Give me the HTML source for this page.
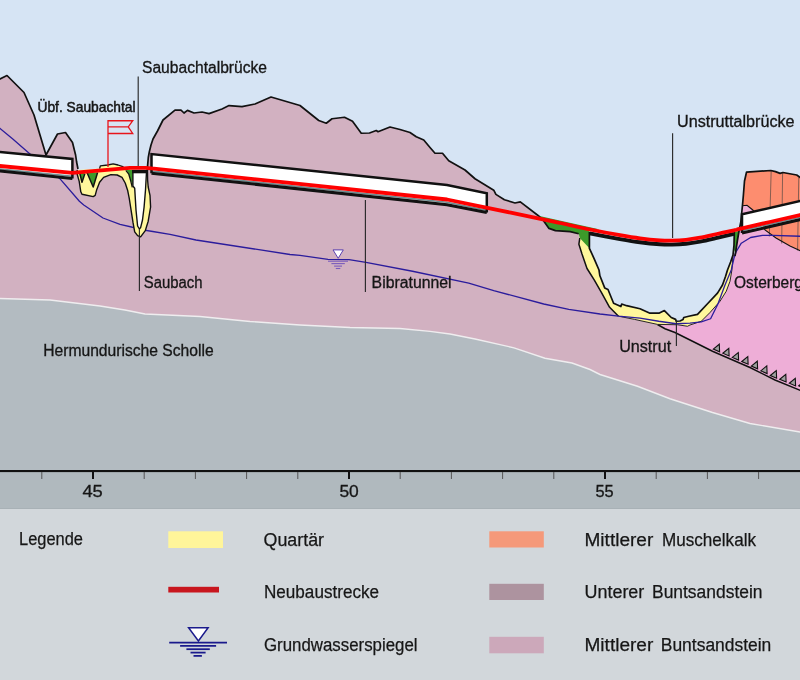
<!DOCTYPE html>
<html><head><meta charset="utf-8">
<style>
html,body{margin:0;padding:0;background:#d2d7db;}
svg{display:block;will-change:transform;}
text{font-family:"Liberation Sans",sans-serif;fill:#161616;}
.lab{stroke:#161616;stroke-width:0.3;}
.lab2{stroke:#161616;stroke-width:0.5;}
.leg{stroke:#1b1b1b;stroke-width:0.25;}
</style></head>
<body>
<svg width="800" height="680" viewBox="0 0 800 680">
<rect x="0" y="0" width="800" height="472" fill="#d6e4f4"/>
<path fill="#d2b1c1" d="M-2,80 L0,79 L7,75.5 L24,92.5 L34,115 L40,135 L46,155 L57.5,134 L65.5,132.5 L72.5,142.5 L75.6,155 L76.6,162 L78,169 L78,170 L147.3,172 L147.3,172 L147.6,165.6 L148.3,157.5 L149.3,152 L151,145 L153,139 L157.5,131 L163,120 L175,110.2 L181,110.2 L184,113 L187.5,110.4 L194,113 L202,112 L209,113.6 L222,109 L229,105.6 L242,106.6 L255,104 L271,97 L300,105.5 L318.75,120.5 L326.25,123.25 L332,118.75 L344.5,117.25 L352.5,121.25 L361.25,133.25 L369.5,133 L376.25,130.5 L378,131.75 L390,127 L400,129.5 L410,132.5 L416.25,136.75 L423.75,140 L430,147.5 L435,153.25 L442.5,153.25 L448.75,160.75 L465,170 L475,178.75 L493.75,190.2 L495.9,194.4 L504.4,199.75 L515,203 L520.3,201.9 L538.4,215.7 L543.7,221 L549,228.4 L555.4,230.6 L570.2,231.6 L578.75,233.75 L578.75,233.75 L579.8,238 L578.9,244.2 L582,254 L587,268.5 L594.2,279.8 L601.5,292.7 L609.6,307.3 L618.5,316.2 L634.6,319.4 L640,320.6 L657.5,324.4 L677.5,324.75 L687.5,326.25 L690,325 L701.25,321.25 L710,312.5 L720,301.25 L726.25,291.25 L730,281.25 L731.9,270 L733,255 L735.5,253 L737.5,240 L739,231 L740.8,222 L742.5,205 L743.4,195 L744.5,181 L746.5,172.2 L770.8,170.5 L775.5,171.6 L780.1,173.4 L782.9,172.5 L796.7,175 L800,177.4 L802,178.6 L802,472 L-2,472 Z"/>
<path fill="#b3bbc1" d="M-2,298.5 L0,298.5 L50,300 L100,306 L125,310 L145,314 L200,316.5 L250,321.5 L300,325 L350,327.5 L400,328.5 L430,331.4 L450,334 L475,339 L514,347.8 L545,358.2 L572,363 L590,369.5 L600,374.5 L637.5,386.25 L670,398.75 L712.5,412.5 L750,423.5 L800,432 L802,432.5 L802,475 L-2,475 Z"/>
<path fill="none" stroke="#efedef" stroke-width="1.4" d="M-2,298.5 L0,298.5 L50,300 L100,306 L125,310 L145,314 L200,316.5 L250,321.5 L300,325 L350,327.5 L400,328.5 L430,331.4 L450,334 L475,339 L514,347.8 L545,358.2 L572,363 L590,369.5 L600,374.5 L637.5,386.25 L670,398.75 L712.5,412.5 L750,423.5 L800,432 L802,432.5"/>
<path fill="#eeaed7" d="M657.5,324.4 L677.5,324.75 L687.5,326.25 L690,325 L701.25,321.25 L710,312.5 L720,301.25 L726.25,291.25 L730,281.25 L731.9,270 L733,255 L735.5,253 L737.5,240 L739,231 L740.8,222 L742.5,205 L742.5,205.7 L747,205.3 L752.8,210 L758,217 L765,230 L776,238 L790,246 L802,251.5 L802,391 L775,380 L750,367.5 L712.5,351.25 L692.5,341.25 L675,332.5 L665,328.75 L657.5,324.5 Z"/>
<path fill="#fd8d6f" d="M742.5,205 L743.4,195 L744.5,181 L746.5,172.2 L770.8,170.5 L775.5,171.6 L780.1,173.4 L782.9,172.5 L796.7,175 L800,177.4 L802,178.6 L802,251.5 L802,251.5 L790,246 L776,238 L765,230 L758,217 L752.8,210 L747,205.3 L742.5,205.7 Z"/>
<g stroke="#6a5048" stroke-width="0.8"><line x1="771.2" y1="170.6" x2="769.3" y2="236.5"/><line x1="782.6" y1="172.6" x2="781.7" y2="243.5"/><line x1="798.8" y1="176.5" x2="797.6" y2="250.5"/></g>
<path fill="none" stroke="#111" stroke-width="1.1" d="M742.5,205.7 L747,205.3 L752.8,210 L758,217 L765,230 L776,238 L790,246 L802,251.5"/>
<path fill="none" stroke="#111" stroke-width="1.5" d="M657.5,324.5 L665,328.75 L675,332.5 L692.5,341.25 L712.5,351.25 L750,367.5 L775,380 L802,391"/>
<g fill="#a0a0a0" stroke="#111" stroke-width="1.1" stroke-linejoin="miter"><path d="M713.3,349.1 L719.3,344.2 L719.6,351.8 Z"/><path d="M722.8,353.2 L728.8,348.3 L729.1,355.9 Z"/><path d="M732.3,357.4 L738.3,352.5 L738.6,360.1 Z"/><path d="M741.8,361.5 L747.8,356.6 L748.1,364.2 Z"/><path d="M751.3,366.1 L757.3,361.2 L757.6,368.8 Z"/><path d="M760.8,370.9 L766.8,365.9 L767.1,373.6 Z"/><path d="M770.3,375.5 L776.3,370.6 L776.6,378.2 Z"/><path d="M779.8,379.3 L785.8,374.4 L786.1,382.0 Z"/><path d="M789.3,383.2 L795.3,378.3 L795.6,385.9 Z"/><path d="M798.8,385.8 L804.8,380.9 L805.1,388.5 Z"/></g>
<path fill="#fff79c" d="M578.75,233.75 L579.8,238 L578.9,244.2 L582,254 L587,268.5 L594.2,279.8 L601.5,292.7 L609.6,307.3 L618.5,316.2 L634.6,319.4 L640,320.6 L657.5,324.4 L677.5,324.75 L687.5,326.25 L690,325 L701.25,321.25 L710,312.5 L720,301.25 L726.25,291.25 L730,281.25 L731.9,270 L733,255 L734.3,232 L734,245 L733,255 L730.6,262 L727.5,270 L725.6,276.25 L722.5,285 L717.5,293.1 L707.5,303.75 L697.5,314.4 L688.75,316.25 L683.75,317.5 L683.1,319.4 L680,321 L676.25,321.25 L675.6,319.4 L671.25,317.5 L664.4,310.6 L659.4,313.1 L649.4,313.1 L640,308.75 L626.6,305.7 L621.7,304 L620.9,306.5 L613.6,303.2 L608,289.5 L604.7,287.9 L599.9,275.8 L599,270 L594.2,258.8 L589.4,248.3 Z"/>
<path fill="none" stroke="#111" stroke-width="1.5" stroke-linejoin="round" d="M579.8,238 L578.9,244.2 L582,254 L587,268.5 L594.2,279.8 L601.5,292.7 L609.6,307.3 L618.5,316.2"/>
<path fill="none" stroke="#111" stroke-width="0.9" stroke-linejoin="round" d="M618.5,316.2 L634.6,319.4 L640,320.6 L657.5,324.4 L677.5,324.75 L687.5,326.25 L690,325 L701.25,321.25 L710,312.5 L720,301.25 L726.25,291.25 L730,281.25 L731.9,270 L733,255"/>
<path fill="#3c9a2a" d="M538.4,215.7 L600,229.5 L589.4,229 L589.4,248.3 L579.8,238 L578.75,233.75 L570.2,231.6 L555.4,230.6 L549,228.4 L543.7,221 Z"/>
<path fill="#3c9a2a" d="M734,232.5 L739.5,230.5 L737.5,240 L735.5,253 L734,250 Z"/>
<path fill="none" stroke="#2b1c9c" stroke-width="1.3" stroke-linejoin="round" d="M-2,126.7 L0,128.4 L12.5,138.8 L29.4,153.4 L60.3,179.1 L79.4,201.2 L83.75,205 L103,218 L120,224.4 L132.5,227.25 L139.4,229.4 L151.25,231.25 L170,234.4 L196,240 L290,254.5 L300,255.4 L328,259.4 L349,259.6 L366,262.3 L412.5,271.25 L468.75,283.1 L493.75,290.6 L543.75,304 L568.75,309.4 L600,314 L618.5,316.2 L640,318.1 L658.75,321.25 L676.25,323.75 L690,323.1 L701.25,321.9 L710.6,318.75 L718,303.75 L725,285 L731.25,270 L734,258 L736,252 L741.3,243.2 L750.6,237.5 L762.5,235.3 L773,235.3 L802,236.3"/>
<path fill="none" stroke="#111" stroke-width="1.7" stroke-linejoin="round" d="M589.4,232 L589.4,248.3 L594.2,258.8 L599,270 L599.9,275.8 L604.7,287.9 L608,289.5 L613.6,303.2 L620.9,306.5 L621.7,304 L626.6,305.7 L640,308.75 L649.4,313.1 L659.4,313.1 L664.4,310.6 L671.25,317.5 L675.6,319.4 L676.25,321.25 L680,321 L683.1,319.4 L683.75,317.5 L688.75,316.25 L697.5,314.4 L707.5,303.75 L717.5,293.1 L722.5,285 L725.6,276.25 L727.5,270 L730.6,262 L733,255 L734,245 L734.3,232"/>
<path fill="none" stroke="#111" stroke-width="1.7" stroke-linejoin="round" d="M735,256 L735.5,253 L737.5,240 L739,231 L740.8,222 L742.5,205 L743.4,195 L744.5,181 L746.5,172.2 L770.8,170.5 L775.5,171.6 L780.1,173.4 L782.9,172.5 L796.7,175 L800,177.4 L802,178.6"/>
<path d="M333,249.9 L343.3,249.9 L338.2,258.3 Z" fill="#fff" stroke="#5a40b0" stroke-width="1"/>
<g stroke="#7a5cbc" stroke-width="1.1"><line x1="328" y1="261.2" x2="348" y2="261.2"/><line x1="331.4" y1="263.6" x2="344.8" y2="263.6"/><line x1="334.1" y1="266.1" x2="342" y2="266.1"/><line x1="335.8" y1="268.5" x2="340.3" y2="268.5"/></g>
<path fill="#fff79c" d="M77.2,170 L77.2,174.2 L79.2,181.4 L80.8,191.8 L82,194.2 L93.2,196.6 L95.2,195.4 L96.8,189.4 L99.6,182.2 L103.6,177.4 L110.8,174.6 L117.2,175 L122,177.4 L125.2,183 L127.6,190.2 L129.2,198.2 L130.6,207 L133,222.4 L134.7,231.8 L137.6,235.6 L140.6,236.8 L145.3,230.6 L148.2,221.2 L150.6,207 L150,195.3 L148.2,187 L147.6,180 L147.5,172 L124,168 L124,168 L122.8,166.6 L118,165 L113.2,163.8 L107.6,165 L100.4,165.8 L99.6,168.6 Z"/>
<path fill="none" stroke="#111" stroke-width="1.4" stroke-linejoin="round" d="M77.2,170 L77.2,174.2 L79.2,181.4 L80.8,191.8 L82,194.2 L93.2,196.6 L95.2,195.4 L96.8,189.4 L99.6,182.2 L103.6,177.4 L110.8,174.6 L117.2,175 L122,177.4 L125.2,183 L127.6,190.2 L129.2,198.2 L130.6,207 L133,222.4 L134.7,231.8 L137.6,235.6 L140.6,236.8 L145.3,230.6 L148.2,221.2 L150.6,207 L150,195.3 L148.2,187 L147.6,180 L147.5,172"/>
<path fill="none" stroke="#111" stroke-width="1.3" stroke-linejoin="round" d="M99.6,168.6 L100.4,165.8 L107.6,165 L113.2,163.8 L118,165 L122.8,166.6 L124,168"/>
<path fill="#3c9a2a" d="M79.8,172.5 L82,181.5 L84.7,172.5 Z M87.3,172.5 L93.2,186.5 L97.4,172.5 Z"/>
<path fill="none" stroke="#111" stroke-width="1.5" stroke-linejoin="round" d="M79.6,172.5 L82,182.2 L84.8,173.8 M87,172.5 L93.2,187 L97.6,172.5"/>
<path fill="#3c9a2a" d="M126.5,170 L132.8,170 L132.8,186 L130.9,181 L128.9,174.4 Z"/>
<path fill="none" stroke="#111" stroke-width="1.3" stroke-linejoin="round" d="M125.8,170.3 L128.8,174.2 L130.7,180.8 L132.3,187.4"/>
<path fill="#fff" stroke="#111" stroke-width="1.4" stroke-linejoin="round" d="M132.9,172 L132.9,186 L134.7,188.2 L136,210 L137.6,226 L139.4,229 L140.6,227.6 L142.5,220 L144.1,207 L145.5,190 L146.5,172 Z"/>
<rect x="132" y="170" width="15.2" height="3.3" fill="#111"/>
<g stroke="#2a2a2a" stroke-width="1.15"><line x1="138.2" y1="76.6" x2="138.2" y2="166"/><line x1="139.4" y1="229" x2="139.4" y2="291"/><line x1="365.4" y1="200" x2="365.4" y2="292"/><line x1="672.6" y1="133.3" x2="672.6" y2="238"/><line x1="676.4" y1="321" x2="676.4" y2="346"/></g>
<path fill="none" stroke="#111" stroke-width="1.7" stroke-linejoin="round" d="M-2,80 L0,79 L7,75.5 L24,92.5 L34,115 L40,135 L46,155 L57.5,134 L65.5,132.5 L72.5,142.5 L75.6,155 L76.6,162 L78,169"/>
<path fill="none" stroke="#111" stroke-width="1.7" stroke-linejoin="round" d="M147.3,172 L147.6,165.6 L148.3,157.5 L149.3,152 L151,145 L153,139 L157.5,131 L163,120 L175,110.2 L181,110.2 L184,113 L187.5,110.4 L194,113 L202,112 L209,113.6 L222,109 L229,105.6 L242,106.6 L255,104 L271,97 L300,105.5 L318.75,120.5 L326.25,123.25 L332,118.75 L344.5,117.25 L352.5,121.25 L361.25,133.25 L369.5,133 L376.25,130.5 L378,131.75 L390,127 L400,129.5 L410,132.5 L416.25,136.75 L423.75,140 L430,147.5 L435,153.25 L442.5,153.25 L448.75,160.75 L465,170 L475,178.75 L493.75,190.2 L495.9,194.4 L504.4,199.75 L515,203 L520.3,201.9 L538.4,215.7 L543.7,221 L549,228.4 L555.4,230.6 L570.2,231.6 L578.75,233.75"/>
<path fill="#fff" d="M-5,151.6 L72.4,158.9 L72.4,178.4 L-5,170.5 Z"/>
<path fill="none" stroke="#6c8e92" stroke-width="1.6" d="M-5,168.6 L72.4,176.2"/>
<path fill="none" stroke="#111" stroke-width="3" d="M-5,170.5 L72.4,178.4"/>
<path fill="none" stroke="#111" stroke-width="2.5" stroke-linejoin="miter" d="M72.4,178.4 L72.4,158.9 L-5,151.6"/>
<path fill="#fff" d="M151.5,154.1 L447,185 L486.8,193.2 L486.8,212.5 L447,204.7 L151.5,173.2 Z"/>
<path fill="none" stroke="#6c8e92" stroke-width="1.6" d="M151.5,171.1 L447,202.3 L486.8,210.4"/>
<path fill="none" stroke="#111" stroke-width="3" d="M151.5,173.2 L447,204.7 L486.8,212.5"/>
<path fill="none" stroke="#111" stroke-width="2.5" stroke-linejoin="miter" d="M151.5,173.2 L151.5,154.1 L447,185 L486.8,193.2 L486.8,212.5"/>
<path fill="#fff" d="M742,214.3 L805,199.8 L805,218.5 L742,233 Z"/>
<path fill="none" stroke="#6c8e92" stroke-width="1.6" d="M742,230.6 L805,216.1"/>
<path fill="none" stroke="#111" stroke-width="3" d="M742,233 L805,218.5"/>
<path fill="none" stroke="#111" stroke-width="2.5" stroke-linejoin="miter" d="M742,233 L742,214.3 L805,199.8"/>
<path fill="none" stroke="#111" stroke-width="3.9" d="M589.5,233.4 C594.58,234.35 611.58,237.62 620,239.1 C628.42,240.58 633.33,241.43 640,242.3 C646.67,243.17 654.67,243.92 660,244.3 C665.33,244.68 667.67,244.68 672,244.6 C676.33,244.52 681.33,244.30 686,243.8 C690.67,243.30 694.83,242.58 700,241.6 C705.17,240.62 711.33,239.18 717,237.9 C722.67,236.62 731.17,234.57 734,233.9"/>
<path fill="none" stroke="#ff0000" stroke-width="3.8" stroke-linejoin="round" d="M-3,165.7 L72.5,172.8 L130,167.8 L146,167.8 C148,167.8 149,168 151.5,168.4 L447,199.5 C453.73,200.90 471.82,204.68 487.4,207.9 C502.98,211.12 528.40,216.28 540.5,218.8 C552.60,221.32 551.75,221.22 560,223 C568.25,224.78 580.00,227.47 590,229.5 C600.00,231.53 611.67,233.72 620,235.2 C628.33,236.68 633.33,237.53 640,238.4 C646.67,239.27 654.67,240.02 660,240.4 C665.33,240.78 667.67,240.78 672,240.7 C676.33,240.62 681.33,240.40 686,239.9 C690.67,239.40 694.83,238.68 700,237.7 C705.17,236.72 711.33,235.23 717,234 C722.67,232.77 729.83,231.23 734,230.3 C738.17,229.37 731.00,230.95 742,228.4 C753.00,225.85 789.50,217.42 800,215 C810.50,212.58 804.17,214.08 805,213.9"/>
<path fill="none" stroke="#e8141b" stroke-width="1.3" d="M108,167 L108,120.75 L132.75,120.75 L128.25,126.9 L132.75,133.5 L108,133.5 M108,126.9 L128.25,126.9"/>
<text class="lab" x="142" y="72.6" font-size="15.6" textLength="125" lengthAdjust="spacingAndGlyphs">Saubachtalbrücke</text>
<text class="lab2" x="37.5" y="111.75" font-size="14.2" textLength="98" lengthAdjust="spacingAndGlyphs">Übf. Saubachtal</text>
<text class="lab" x="143.8" y="288" font-size="15.6" textLength="58.8" lengthAdjust="spacingAndGlyphs">Saubach</text>
<text class="lab" x="371.6" y="288.4" font-size="15.6" textLength="80" lengthAdjust="spacingAndGlyphs">Bibratunnel</text>
<text class="lab" x="43.2" y="356" font-size="15.6" textLength="170.5" lengthAdjust="spacingAndGlyphs">Hermundurische Scholle</text>
<text class="lab" x="677" y="127.1" font-size="15.6" textLength="117.6" lengthAdjust="spacingAndGlyphs">Unstruttalbrücke</text>
<text class="lab" x="734" y="288.1" font-size="15.6" textLength="69" lengthAdjust="spacingAndGlyphs">Osterberg</text>
<text class="lab" x="619.2" y="352" font-size="16.4" textLength="52" lengthAdjust="spacingAndGlyphs">Unstrut</text>
<rect x="0" y="472" width="800" height="37" fill="#b0b9be"/>
<rect x="0" y="470" width="800" height="2.1" fill="#111"/>
<g stroke="#555" stroke-width="1"><line x1="41.8" y1="472" x2="41.8" y2="479"/><line x1="144.2" y1="472" x2="144.2" y2="479"/><line x1="195.4" y1="472" x2="195.4" y2="479"/><line x1="246.6" y1="472" x2="246.6" y2="479"/><line x1="297.8" y1="472" x2="297.8" y2="479"/><line x1="400.2" y1="472" x2="400.2" y2="479"/><line x1="451.4" y1="472" x2="451.4" y2="479"/><line x1="502.6" y1="472" x2="502.6" y2="479"/><line x1="553.8" y1="472" x2="553.8" y2="479"/><line x1="656.2" y1="472" x2="656.2" y2="479"/><line x1="707.4" y1="472" x2="707.4" y2="479"/><line x1="758.6" y1="472" x2="758.6" y2="479"/></g>
<g stroke="#111" stroke-width="2"><line x1="93.0" y1="472" x2="93.0" y2="479"/><line x1="349.0" y1="472" x2="349.0" y2="479"/><line x1="605.0" y1="472" x2="605.0" y2="479"/></g>
<text class="lab" x="82.4" y="496.8" font-size="16.4" textLength="20.4" lengthAdjust="spacingAndGlyphs">45</text>
<text class="lab" x="339.4" y="496.8" font-size="16.4" textLength="19.4" lengthAdjust="spacingAndGlyphs">50</text>
<text class="lab" x="595.4" y="496.8" font-size="16.4" textLength="18.2" lengthAdjust="spacingAndGlyphs">55</text>
<rect x="0" y="509" width="800" height="171" fill="#d2d7db"/>
<rect x="0" y="508" width="800" height="1" fill="#a8b1b6"/>
<text class="leg" x="19" y="545" font-size="18" textLength="64" lengthAdjust="spacingAndGlyphs">Legende</text>
<rect x="168.3" y="531.3" width="54.7" height="16.7" fill="#fff59a"/>
<rect x="168.3" y="586.8" width="50.7" height="5.7" fill="#c8161e"/>
<g stroke="#1a1a8c" stroke-width="1.75" fill="none"><line x1="169.2" y1="642.5" x2="227" y2="642.5"/><line x1="180.1" y1="645.9" x2="216.1" y2="645.9"/><line x1="186.4" y1="649.2" x2="209.8" y2="649.2"/><line x1="190.5" y1="652.6" x2="205.6" y2="652.6"/><line x1="193.5" y1="655.9" x2="201.9" y2="655.9"/></g>
<path d="M188.6,627.7 L208.1,627.7 L198.4,641 Z" fill="#fff" stroke="#1a1a8c" stroke-width="1.5"/>
<text class="leg" x="263.5" y="545.75" font-size="18" textLength="60.5" lengthAdjust="spacingAndGlyphs" xml:space="preserve">Quartär</text>
<text class="leg" x="264" y="598" font-size="18" textLength="115" lengthAdjust="spacingAndGlyphs" xml:space="preserve">Neubaustrecke</text>
<text class="leg" x="264" y="650.5" font-size="18" textLength="153.5" lengthAdjust="spacingAndGlyphs" xml:space="preserve">Grundwasserspiegel</text>
<text class="leg" x="584.5" y="545.75" font-size="18" textLength="68.8" lengthAdjust="spacingAndGlyphs" xml:space="preserve">Mittlerer</text>
<text class="leg" x="662" y="545.75" font-size="18" textLength="94" lengthAdjust="spacingAndGlyphs" xml:space="preserve">Muschelkalk</text>
<text class="leg" x="584.5" y="598" font-size="18" textLength="59.8" lengthAdjust="spacingAndGlyphs" xml:space="preserve">Unterer</text>
<text class="leg" x="652" y="598" font-size="18" textLength="110.5" lengthAdjust="spacingAndGlyphs" xml:space="preserve">Buntsandstein</text>
<text class="leg" x="584.5" y="650.75" font-size="18" textLength="68.8" lengthAdjust="spacingAndGlyphs" xml:space="preserve">Mittlerer</text>
<text class="leg" x="660.8" y="650.75" font-size="18" textLength="110.5" lengthAdjust="spacingAndGlyphs" xml:space="preserve">Buntsandstein</text>
<rect x="489.3" y="531.3" width="54.5" height="16.2" fill="#f5997a"/>
<rect x="489.3" y="583.8" width="54.5" height="16.2" fill="#ad939f"/>
<rect x="489.3" y="636.8" width="54.5" height="16.5" fill="#cca8ba"/>
</svg>
</body></html>
